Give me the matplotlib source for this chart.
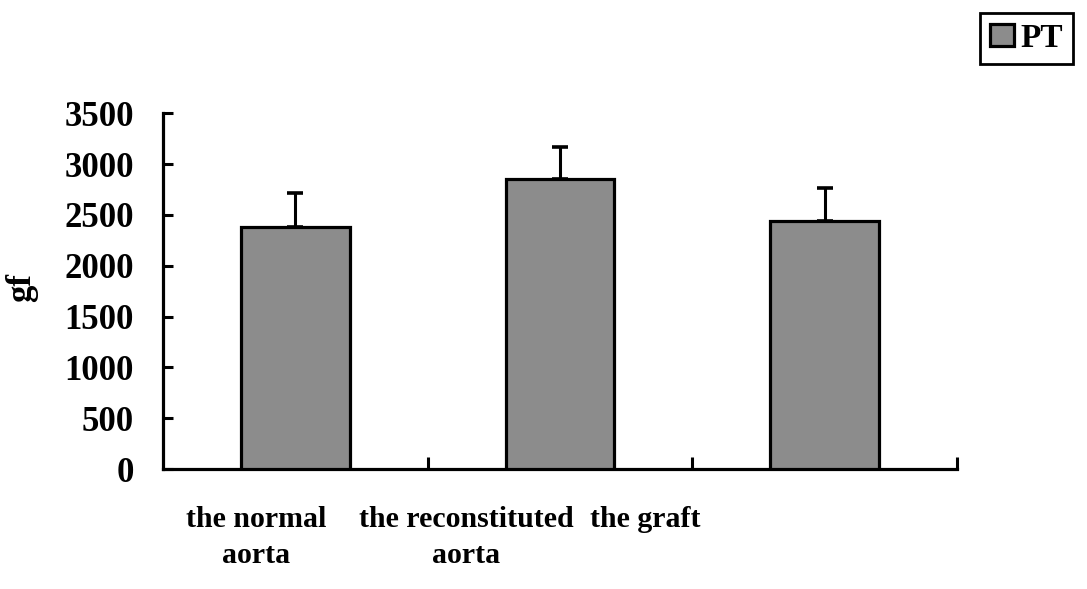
import numpy as np
import matplotlib
matplotlib.use("Agg")
import matplotlib.pyplot as plt

# values
groups = ["the normal\naorta", "the reconstituted\naorta", "the graft"]
pt_mean = [2385, 2855, 2440]
pt_sd = [335, 310, 330]
yticks = [0, 500, 1000, 1500, 2000, 2500, 3000, 3500]

# where the group labels sit (data x, they are not centred under the bars)
label_x = [0.353, 1.145, 1.822]

plt.rcParams['font.family'] = ['Liberation Serif', 'DejaVu Serif']
plt.rcParams['font.weight'] = 'bold'

fig = plt.figure(figsize=(10.87, 5.89), dpi=100)
ax = fig.add_axes([0.15, 0.2037, 0.7304, 0.6039])

x = np.arange(len(groups)) + 0.5
bars = ax.bar(x, pt_mean, width=0.41, color='#8c8c8c', edgecolor='black',
              linewidth=2.3, label='PT', zorder=3)
ax.errorbar(x, pt_mean, yerr=[np.zeros(len(pt_sd)), pt_sd], fmt='none',
            ecolor='black', elinewidth=2.2, capsize=6, capthick=2.6, zorder=2)

ax.set_xlim(0, 3)
ax.set_ylim(0, 3500)
ax.spines['top'].set_visible(False)
ax.spines['right'].set_visible(False)
ax.spines['left'].set_linewidth(2.3)
ax.spines['bottom'].set_linewidth(2.3)

ax.set_yticks(yticks)
ax.set_yticklabels([str(v) for v in yticks], fontsize=25, fontweight='bold')
ax.tick_params(axis='y', direction='in', length=7, width=2.2, pad=21)
ax.set_xticks([1, 2, 3])
ax.set_xticklabels([])
ax.tick_params(axis='x', direction='in', length=9, width=2.2)

for lx, g in zip(label_x, groups):
    ax.text(lx, -0.105, g, transform=ax.get_xaxis_transform(), ha='center',
            va='top', fontsize=21.5, fontweight='bold', linespacing=1.42)

fig.text(22 / 1087, 1 - 288 / 589, 'gf', rotation=90, ha='center',
         va='center', fontsize=25, fontweight='bold')

leg = fig.legend(handles=[bars], labels=['PT'], loc='upper right',
                 bbox_to_anchor=(0.987, 0.978), borderaxespad=0,
                 fancybox=False, edgecolor='black', framealpha=1,
                 prop={'size': 24, 'weight': 'bold'}, handlelength=0.7,
                 handleheight=0.65, handletextpad=0.2, borderpad=0.3)
leg.get_frame().set_linewidth(2)

fig.savefig("out.png", dpi=100)
